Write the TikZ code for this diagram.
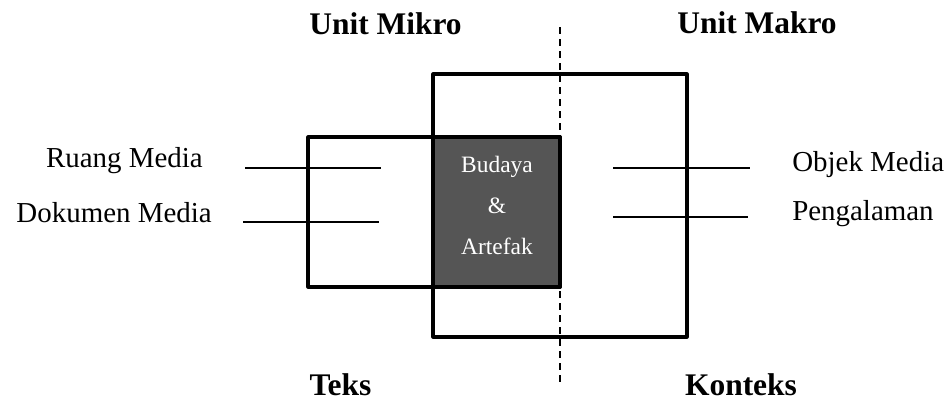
\documentclass[tikz,border=0pt]{standalone}
\usepackage{fontspec}
\setmainfont{Liberation Serif}
\definecolor{artefakgray}{HTML}{555555}
\tikzset{
  boxline/.style={line width=2.3pt, line join=round},
  pointer/.style={line width=1pt},
  divider/.style={line width=0.9pt, dash pattern=on 5pt off 4pt},
  heading/.style={font=\fontsize{23.6}{26}\selectfont\bfseries, inner sep=0pt},
  itemlabel/.style={font=\fontsize{21.7}{24}\selectfont, inner sep=0pt},
  corelabel/.style={font=\fontsize{17.6}{20}\selectfont, text=white, inner sep=0pt}
}
\begin{document}
\begin{tikzpicture}[x=0.75pt,y=-0.75pt]
  \useasboundingbox (0,0) rectangle (952,401);

  % Dividing line between micro and macro
  \coordinate (divtop) at (560,27);
  \coordinate (divbot) at (560,383);
  \draw [divider] (divtop) -- (divbot);

  % Context box
  \draw [boxline] (433,74) rectangle (687,337);

  % Text box
  \draw [boxline] (308,137) rectangle (560,287);

  % Shared core
  \draw [boxline, fill=artefakgray] (433,137) rectangle (560,287);
  \node (budaya) [corelabel, anchor=base] at (497,172) {Budaya};
  \node (amp) [corelabel, anchor=base] at (497,213) {\&};
  \node (artefak) [corelabel, anchor=base] at (497,254) {Artefak};

  % Headings
  \node (mikro) [heading, anchor=base] at (385.5,34) {Unit Mikro};
  \node (makro) [heading, anchor=base] at (757,33) {Unit Makro};
  \node (teks) [heading, anchor=base] at (340.5,395) {Teks};
  \node (konteks) [heading, anchor=base] at (741,395) {Konteks};

  % Labels on the left
  \node (ruang) [itemlabel, anchor=base east] at (203,167) {Ruang Media};
  \node (dokumen) [itemlabel, anchor=base east] at (212,222) {Dokumen Media};
  \draw [pointer] (245,168) -- (381,168);
  \draw [pointer] (243,222) -- (379,222);

  % Labels on the right
  \node (objek) [itemlabel, anchor=base west] at (792,171) {Objek Media};
  \node (pengalaman) [itemlabel, anchor=base west] at (792,220) {Pengalaman};
  \draw [pointer] (613,168) -- (750,168);
  \draw [pointer] (613,217) -- (748,217);
\end{tikzpicture}
\end{document}
